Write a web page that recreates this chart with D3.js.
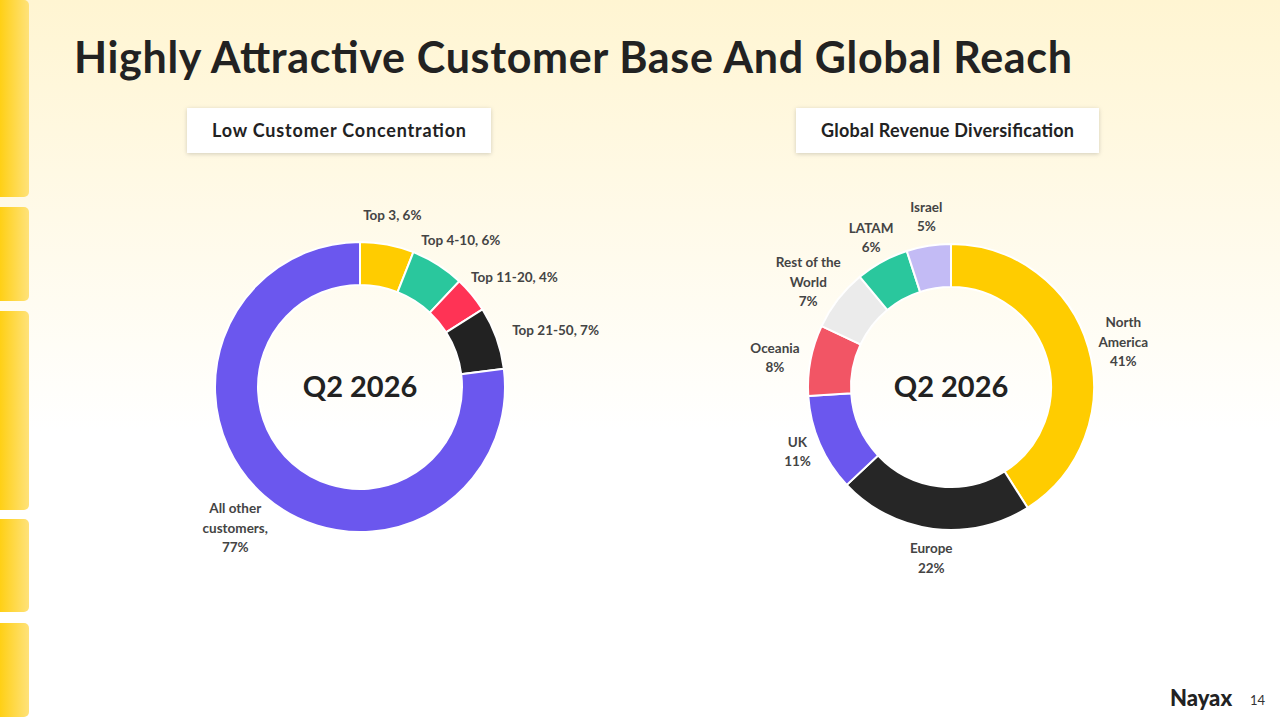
<!DOCTYPE html>
<html>
<head>
<meta charset="utf-8">
<script src="https://cdn.jsdelivr.net/npm/d3@7"></script>
<style>
body { margin: 0; overflow: hidden; }
text { font-family: Lato, "Open Sans", sans-serif; }
</style>
</head>
<body>
<script>
var width = 1280, height = 720;

var custLabels = [["Top 3, 6%"], ["Top 4-10, 6%"], ["Top 11-20, 4%"], ["Top 21-50, 7%"], ["All other", "customers,", "77%"]];
var custValues = [6, 6, 4, 7, 77];
var custColors = ["#ffcc00", "#2ac79d", "#ff3355", "#222222", "#6b57ee"];

var geoLabels = [["North", "America", "41%"], ["Europe", "22%"], ["UK", "11%"], ["Oceania", "8%"], ["Rest of the", "World", "7%"], ["LATAM", "6%"], ["Israel", "5%"]];
var geoValues = [41, 22, 11, 8, 7, 6, 5];
var geoColors = ["#ffcc00", "#262626", "#6b57ee", "#f25565", "#ebebeb", "#2ac79d", "#c3bbf5"];

var sideBlocks = [[0, 200], [207, 304], [311, 513], [519, 615], [623, 720]];

var svg = d3.select("body").append("svg")
    .attr("width", width)
    .attr("height", height);

var defs = svg.append("defs");
var bg = defs.append("linearGradient").attr("id", "bg").attr("x1", 0).attr("y1", 0).attr("x2", 0).attr("y2", 1);
bg.append("stop").attr("offset", "0%").attr("stop-color", "#fff5d2");
bg.append("stop").attr("offset", "60%").attr("stop-color", "#ffffff");
var side = defs.append("linearGradient").attr("id", "side");
side.append("stop").attr("offset", "0%").attr("stop-color", "#ffcc00");
side.append("stop").attr("offset", "100%").attr("stop-color", "#ffe27a");
var sh = defs.append("filter").attr("id", "sh").attr("x", "-10%").attr("y", "-20%").attr("width", "120%").attr("height", "150%");
sh.append("feDropShadow").attr("dx", 0).attr("dy", 1).attr("stdDeviation", 2).attr("flood-opacity", 0.18);

svg.append("rect").attr("width", width).attr("height", height).attr("fill", "url(#bg)");

svg.selectAll(".side").data(sideBlocks).enter().append("rect")
    .attr("x", -6).attr("y", function(d) { return d[0]; })
    .attr("width", 35).attr("height", function(d) { return d[1] - d[0] - 3; })
    .attr("rx", 5).attr("fill", "url(#side)");

svg.append("text").attr("x", 74).attr("y", 73)
    .attr("font-size", 43).attr("font-weight", 700).attr("fill", "#222")
    .attr("textLength", 998).attr("lengthAdjust", "spacing")
    .text("Highly Attractive Customer Base And Global Reach");

function titleBox(x, w, label) {
    svg.append("rect").attr("x", x).attr("y", 108).attr("width", w).attr("height", 45)
        .attr("fill", "#fff").attr("filter", "url(#sh)");
    svg.append("text").attr("x", x + w / 2).attr("y", 137).attr("text-anchor", "middle")
        .attr("font-size", 18).attr("font-weight", 700).attr("fill", "#222")
        .attr("textLength", w - 50).attr("lengthAdjust", "spacing").text(label);
}
titleBox(187, 304, "Low Customer Concentration");
titleBox(796, 303, "Global Revenue Diversification");

function donut(cx, cy, ro, ri, gap, values, colors, labels) {
    var g = svg.append("g").attr("transform", "translate(" + cx + "," + cy + ")");
    var arcs = d3.pie().sort(null)(values);
    var arc = d3.arc().innerRadius(ri).outerRadius(ro);
    g.selectAll("path").data(arcs).enter().append("path")
        .attr("d", arc).attr("fill", function(d, i) { return colors[i]; })
        .attr("stroke", "#fff").attr("stroke-width", 2);
    g.append("text").attr("y", 10).attr("text-anchor", "middle")
        .attr("font-size", 29).attr("font-weight", 700).attr("fill", "#222").text("Q2 2026");
    arcs.forEach(function(d, i) {
        var a = (d.startAngle + d.endAngle) / 2;
        var lines = labels[i];
        var t = g.append("text").attr("text-anchor", "middle")
            .attr("font-size", 13.5).attr("font-weight", 700).attr("fill", "#444");
        lines.forEach(function(l, j) {
            t.append("tspan").attr("x", 0).attr("dy", j ? 19.5 : 0).text(l);
        });
        // place label box just outside the arc edge
        var b = t.node().getBBox();
        var R = ro + gap;
        var x = Math.sin(a) * (R + b.width / 2 * Math.abs(Math.sin(a)));
        var y = -Math.cos(a) * (R + b.height / 2 * Math.abs(Math.cos(a)));
        t.attr("transform", "translate(" + x + "," + (y - b.y - b.height / 2) + ")");
    });
}
donut(360, 387, 145, 102, 22, custValues, custColors, custLabels);
donut(951, 387, 143, 100, 12, geoValues, geoColors, geoLabels);

svg.append("text").attr("x", 1170).attr("y", 706)
    .attr("font-size", 22).attr("font-weight", 900).attr("fill", "#222").text("Nayax");
svg.append("text").attr("x", 1250).attr("y", 705)
    .attr("font-size", 13).attr("fill", "#333").text("14");
</script>
</body>
</html>
